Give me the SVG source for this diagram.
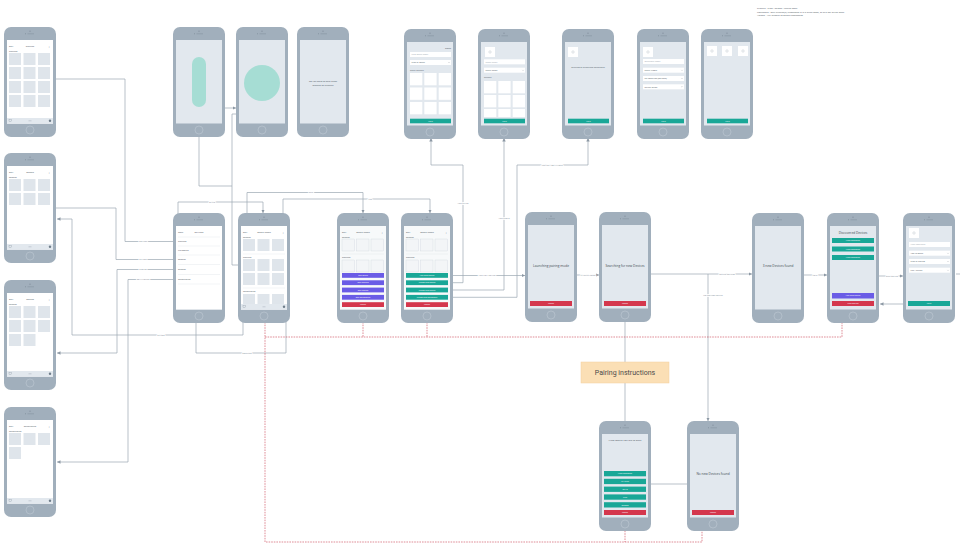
<svg xmlns="http://www.w3.org/2000/svg" xmlns:xlink="http://www.w3.org/1999/xlink" width="960" height="547" viewBox="0 0 960 547">
<style>
text{font-family:"Open Sans","Liberation Sans",sans-serif;}
.t{font-size:2.4px;fill:#4b5560;}
.tm{text-anchor:middle;}
.big{font-size:3.2px;fill:#3e4851;text-anchor:middle;}
.ph{fill:#a1afbc;}
.scr{fill:#e2e8ee;}
.wht{fill:#ffffff;}
.tile{fill:#dfe5eb;}
.otile{fill:#f3f5f7;stroke:#c5ced7;stroke-width:0.3;}
.wtile{fill:#ffffff;}
.teal{fill:#19a797;}
.pur{fill:#6a5ce6;}
.red{fill:#d4374d;}
.bt{font-size:2px;fill:#ffffff;text-anchor:middle;}
.inp{fill:#ffffff;}
.ph2{font-size:2.1px;fill:#9aa5b0;}
.sep{stroke:#d3dae1;stroke-width:0.3;}
.ln{fill:none;stroke:#9ba7b2;stroke-width:0.7;}
.rd{fill:none;stroke:#c94253;stroke-width:0.6;stroke-dasharray:1.6 1;}
.lbl{font-size:2.1px;fill:#7d8995;text-anchor:middle;stroke:#ffffff;stroke-width:1.6px;paint-order:stroke;}
.plus{font-size:4px;fill:#8a96a2;}
</style>
<defs>
<marker id="arr" viewBox="0 0 6 6" refX="6" refY="3" markerWidth="3.5" markerHeight="3.5" orient="auto" markerUnits="userSpaceOnUse"><path d="M0,0 L6,3 L0,6 z" fill="#8c98a4"/></marker>
<g id="phone">
<rect class="ph" width="52" height="110" rx="7"/>
<rect class="scr" x="3" y="13" width="46" height="83.5"/>
<circle cx="26" cy="4.2" r="0.6" fill="#7f8d9a"/>
<line x1="23.5" y1="6.8" x2="30" y2="6.8" stroke="#7f8d9a" stroke-width="0.5"/>
<circle cx="21.5" cy="6.8" r="0.5" fill="#7f8d9a"/>
<circle cx="26" cy="103" r="4" fill="none" stroke="#c3cdd6" stroke-width="0.5"/>
</g>
<g id="tabbar">
<rect class="scr" x="3" y="91" width="46" height="5.5"/>
<rect x="5" y="92.5" width="2.5" height="2.3" fill="none" stroke="#7f8d9a" stroke-width="0.3"/>
<line x1="24.5" y1="93.8" x2="27.5" y2="93.8" stroke="#9aa5b0" stroke-width="0.4"/>
<circle cx="46" cy="93.8" r="1.2" fill="#6f7d8a"/>
</g>
<g id="row3"><rect class="tile" x="5" y="0" width="12" height="12"/><rect class="tile" x="19.5" y="0" width="12" height="12"/><rect class="tile" x="34" y="0" width="12" height="12"/></g>
<g id="orow3"><rect class="otile" x="5" y="0" width="12.5" height="12"/><rect class="otile" x="19.5" y="0" width="12.5" height="12"/><rect class="otile" x="34" y="0" width="12.5" height="12"/></g>
<g id="wrow3"><rect class="wtile" x="6" y="0" width="12.3" height="12.3"/><rect class="wtile" x="20.3" y="0" width="12.3" height="12.3"/><rect class="wtile" x="34.7" y="0" width="12.3" height="12.3"/></g>
<g id="caret"><polyline points="-0.6,-0.3 0,0.3 0.6,-0.3" fill="none" stroke="#4b5560" stroke-width="0.25"/></g>
<g id="icon"><rect class="wht" width="10" height="10"/><circle cx="5" cy="5" r="1.2" fill="none" stroke="#9aa5b0" stroke-width="0.3"/></g>
</defs>

<!-- annotation -->
<g id="note">
<text class="t" x="757" y="9" style="font-size:2.3px">Triggers - Time / Sensor / Device state</text>
<text class="t" x="757" y="12.5" style="font-size:2.3px">Conditions - Only execute(s) if someone is in a given room, or at a day of the week</text>
<text class="t" x="757" y="16" style="font-size:2.3px">Actions - Any number of Zigbee commands</text>
</g>

<!-- connectors -->
<g id="connectors">
<path class="ln" d="M55,79 H125 V241.5 H177"/>
<path class="ln" d="M55,208 H116 V259.5 H177"/>
<path class="ln" d="M177,269.5 H117 V353 H57" marker-end="url(#arr)"/>
<path class="ln" d="M177,279.5 H128 V462 H57" marker-end="url(#arr)"/>
<path class="ln" d="M243,308 V335 H72 V219 H57" marker-end="url(#arr)"/>
<path class="ln" d="M196,322 V353 H286 V308"/>
<path class="ln" d="M178,229 V202 H263 V213" marker-end="url(#arr)"/>
<path class="ln" d="M247,229 V192.5 H363 V213" marker-end="url(#arr)"/>
<path class="ln" d="M283,229 V199 H430 V213" marker-end="url(#arr)"/>
<path class="ln" d="M199,137 V186 H232"/>
<path class="ln" d="M225,108 H236" marker-end="url(#arr)"/>
<path class="ln" d="M243,265 H232 V114 H236"/>
<path class="ln" d="M448,275.5 H525" marker-end="url(#arr)"/>
<path class="ln" d="M448,282.7 H463 V165 H431 V138" marker-end="url(#arr)"/>
<path class="ln" d="M448,290 H504 V138" marker-end="url(#arr)"/>
<path class="ln" d="M448,297.3 H517 V165 H588 V138" marker-end="url(#arr)"/>
<path class="ln" d="M577,275 H599" marker-end="url(#arr)"/>
<path class="ln" d="M651,274 H752" marker-end="url(#arr)"/>
<path class="ln" d="M708,274 V421" marker-end="url(#arr)"/>
<path class="ln" d="M625,322 V362"/>
<path class="ln" d="M625,383 V421"/>
<path class="ln" d="M804,275 H827" marker-end="url(#arr)"/>
<path class="ln" d="M879,276 H903" marker-end="url(#arr)"/>
<path class="ln" d="M908,304 H880" marker-end="url(#arr)"/>
<path class="ln" d="M956,274 H960"/>
<path class="ln" d="M651,484 H687"/>
<path class="rd" d="M265,322 V542 H702 V515"/>
<path class="rd" d="M625,515 V542"/>
<path class="rd" d="M265,337 H842 V306"/>
<path class="rd" d="M363,322 V337"/>
<path class="rd" d="M427,322 V337"/>
<text class="lbl" x="143" y="242.3">DEVICES</text>
<text class="lbl" x="143" y="260.3">SPACES</text>
<text class="lbl" x="143" y="270.3">SCENES</text>
<text class="lbl" x="143" y="280.3">BEHAVIOURS</text>
<text class="lbl" x="161" y="335.8">SPACES</text>
<text class="lbl" x="247" y="353.8">SETTINGS</text>
<text class="lbl" x="212" y="202.8">SPACE</text>
<text class="lbl" x="311" y="193.3">EDIT</text>
<text class="lbl" x="370" y="199.8">ADD</text>
<text class="lbl" x="487" y="276.3">ADD NEW DEVICE</text>
<text class="lbl" x="463" y="204">ADD SPACE</text>
<text class="lbl" x="504" y="218.8">ADD SCENE</text>
<text class="lbl" x="552" y="165.8">ADD NEW BEHAVIOUR</text>
<text class="lbl" x="588" y="275.8">PAIRING MODE</text>
<text class="lbl" x="727" y="274.8">FOUND DEVICES</text>
<text class="lbl" x="713" y="295.8">NO DEVICES FOUND</text>
<text class="lbl" x="815" y="275.8">NEXT</text>
<text class="lbl" x="892" y="276.8">EDIT DEVICE</text>
</g>

<!-- left column -->
<g id="devices" transform="translate(4,27)">
<use href="#phone"/><rect class="wht" x="3" y="13" width="46" height="83.5"/>
<text class="t" x="5" y="19.5">Edit</text><text class="t tm" x="26" y="19.5">Devices</text><text class="plus" x="44" y="20.5">+</text>
<text class="t" x="5" y="24.5">Devices</text>
<use href="#row3" y="26"/><use href="#row3" y="40"/><use href="#row3" y="54"/><use href="#row3" y="68"/>
<use href="#tabbar"/>
</g>
<g id="spaces" transform="translate(4,153)">
<use href="#phone"/><rect class="wht" x="3" y="13" width="46" height="83.5"/>
<text class="t" x="5" y="19.5">Edit</text><text class="t tm" x="26" y="19.5">Spaces</text><text class="plus" x="44" y="20.5">+</text>
<text class="t" x="5" y="24.5">Spaces</text>
<use href="#row3" y="26"/><use href="#row3" y="40"/>
<use href="#tabbar"/>
</g>
<g id="scenes" transform="translate(4,280)">
<use href="#phone"/><rect class="wht" x="3" y="13" width="46" height="83.5"/>
<text class="t" x="5" y="19.5">Edit</text><text class="t tm" x="26" y="19.5">Scenes</text><text class="plus" x="44" y="20.5">+</text>
<text class="t" x="5" y="24.5">Scenes</text>
<use href="#row3" y="26"/><use href="#row3" y="40"/>
<rect class="tile" x="5" y="54" width="12" height="12"/><rect class="tile" x="19.5" y="54" width="12" height="12"/>
<use href="#tabbar"/>
</g>
<g id="behaviours" transform="translate(4,407)">
<use href="#phone"/><rect class="wht" x="3" y="13" width="46" height="83.5"/>
<text class="t" x="5" y="19.5">Edit</text><text class="t tm" x="26" y="19.5">Behaviours</text><text class="plus" x="44" y="20.5">+</text>
<text class="t" x="5" y="24.5">Behaviours</text>
<use href="#row3" y="26"/>
<rect class="tile" x="5" y="40" width="12" height="12"/>
<use href="#tabbar"/>
</g>

<!-- top row -->
<g id="slider" transform="translate(173,27)">
<use href="#phone"/>
<rect x="19" y="30" width="14" height="50" rx="7" fill="#a6ddd4"/>
</g>
<g id="colour" transform="translate(236,27)">
<use href="#phone"/>
<circle cx="26" cy="56" r="18" fill="#a6ddd4"/>
</g>
<g id="save-scene" transform="translate(297,27)">
<use href="#phone"/>
<text class="t tm" x="26" y="54.5" style="font-size:2.3px">Do you want to save these</text>
<text class="t tm" x="26" y="58.5" style="font-size:2.3px">settings as a scene?</text>
</g>
<g id="new-space" transform="translate(404,29)">
<use href="#phone"/>
<text class="t" x="47" y="19.5" text-anchor="end">Done</text>
<rect class="inp" x="6" y="23" width="41" height="5"/><text class="ph2" x="7.5" y="26.3">New Space name</text>
<rect class="inp" x="6" y="31" width="41" height="5"/><text class="t" x="7.5" y="34.3" style="font-size:2.1px">Type of Space</text><use href="#caret" x="45" y="33.5"/>
<text class="t" x="6" y="42" style="font-size:2.1px">Select Devices</text>
<use href="#wrow3" y="44"/><use href="#wrow3" y="58.5"/><use href="#wrow3" y="73"/>
<rect class="teal" x="6" y="89.7" width="41" height="4.6"/><text class="bt" x="26.5" y="92.7">Next</text>
</g>
<g id="new-scene" transform="translate(478,29)">
<use href="#phone"/>
<use href="#icon" x="7" y="18"/>
<rect class="inp" x="6" y="30.3" width="41" height="5"/><text class="ph2" x="7.5" y="33.6">Scene name</text>
<rect class="inp" x="6" y="38.7" width="41" height="5"/><text class="t" x="7.5" y="42" style="font-size:2.1px">Select Space</text><use href="#caret" x="45" y="41.2"/>
<text class="t" x="6" y="48.5" style="font-size:2.1px">Devices</text>
<use href="#wrow3" y="52"/><use href="#wrow3" y="66"/>
<rect class="wtile" x="6" y="80" width="12.3" height="8"/><rect class="wtile" x="20.3" y="80" width="12.3" height="8"/><rect class="wtile" x="34.7" y="80" width="12.3" height="8"/>
<rect class="teal" x="6" y="89.7" width="41" height="4.6"/><text class="bt" x="26.5" y="92.7">Next</text>
</g>
<g id="prescribed" transform="translate(562,29)">
<use href="#phone"/>
<use href="#icon" x="6" y="18"/>
<text class="t tm" x="26" y="39" style="font-size:2.1px">Selection of prescribed Behaviours</text>
<rect class="teal" x="6" y="89.7" width="41" height="4.6"/><text class="bt" x="26.5" y="92.7">Next</text>
</g>
<g id="new-behaviour" transform="translate(637,29)">
<use href="#phone"/>
<use href="#icon" x="6" y="18"/>
<rect class="inp" x="6" y="30" width="41" height="5"/><text class="ph2" x="7.5" y="33.3">Behaviour name</text>
<rect class="inp" x="6" y="38.7" width="41" height="5"/><text class="t" x="7.5" y="42" style="font-size:2.1px">Select trigger</text><use href="#caret" x="45" y="41.2"/>
<rect class="inp" x="6" y="47" width="41" height="5"/><text class="t" x="7.5" y="50.3" style="font-size:2.1px">Set condition (optional)</text><use href="#caret" x="45" y="49.5"/>
<rect class="inp" x="6" y="55.3" width="41" height="5"/><text class="t" x="7.5" y="58.6" style="font-size:2.1px">Define action</text><use href="#caret" x="45" y="57.8"/>
<rect class="teal" x="6" y="89.7" width="41" height="4.6"/><text class="bt" x="26.5" y="92.7">Next</text>
</g>
<g id="trigger-types" transform="translate(701,29)">
<use href="#phone"/>
<use href="#icon" x="6" y="17"/><use href="#icon" x="21" y="17"/><use href="#icon" x="37" y="17"/>
<rect class="teal" x="6" y="89.7" width="41" height="4.6"/><text class="bt" x="26.5" y="92.7">Next</text>
</g>

<!-- middle row -->
<g id="settings" transform="translate(173,213)">
<use href="#phone"/><rect class="wht" x="3" y="13" width="46" height="83.5"/>
<text class="t" x="5" y="19.5">Back</text><text class="t tm" x="26" y="19.5">Settings</text>
<line class="sep" x1="5" y1="24" x2="47" y2="24"/>
<text class="t" x="5" y="29.3">Devices</text><line class="sep" x1="5" y1="33" x2="47" y2="33"/>
<text class="t" x="5" y="38.3">Networks</text><line class="sep" x1="5" y1="42" x2="47" y2="42"/>
<text class="t" x="5" y="47.3">Spaces</text><line class="sep" x1="5" y1="51.5" x2="47" y2="51.5"/>
<text class="t" x="5" y="57.3">Scenes</text><line class="sep" x1="5" y1="61.5" x2="47" y2="61.5"/>
<text class="t" x="5" y="67.3">Behaviours</text><line class="sep" x1="5" y1="71" x2="47" y2="71"/>
</g>
<g id="space" transform="translate(238,213)">
<use href="#phone"/><rect class="wht" x="3" y="13" width="46" height="83.5"/>
<text class="t" x="5" y="19.5">Edit</text><text class="t tm" x="26" y="19.5">Space name</text><text class="plus" x="44" y="20.5">+</text>
<text class="t" x="5" y="24.5">Scenes</text>
<use href="#row3" y="26"/>
<line class="sep" x1="5" y1="41" x2="47" y2="41"/>
<text class="t" x="5" y="44.5">Devices</text>
<use href="#row3" y="46"/><use href="#row3" y="60"/>
<line class="sep" x1="5" y1="75" x2="47" y2="75"/>
<text class="t" x="5" y="78.5">Behaviours</text>
<rect class="tile" x="5" y="81" width="12" height="10"/><rect class="tile" x="19.5" y="81" width="12" height="10"/><rect class="tile" x="34" y="81" width="12" height="10"/>
<use href="#tabbar"/>
</g>
<g id="edit-space" transform="translate(337,213)">
<use href="#phone"/><rect x="3" y="13" width="46" height="83.5" fill="#f7f9fa"/>
<text class="t" x="5" y="19.5">Edit</text><text class="t tm" x="26" y="19.5">Space name</text><text class="plus" x="44" y="20.5">+</text>
<text class="t" x="5" y="24.5">Scenes</text>
<use href="#orow3" y="26"/>
<line class="sep" x1="5" y1="41" x2="47" y2="41"/>
<text class="t" x="5" y="44.5">Devices</text>
<use href="#orow3" y="47"/>
<rect class="pur" x="5" y="60" width="42" height="4.8"/><text class="bt" x="26" y="63.1">Edit Space</text>
<rect class="pur" x="5" y="67.3" width="42" height="4.8"/><text class="bt" x="26" y="70.4">Edit Devices</text>
<rect class="pur" x="5" y="74.6" width="42" height="4.8"/><text class="bt" x="26" y="77.7">Edit Scenes</text>
<rect class="pur" x="5" y="81.9" width="42" height="4.8"/><text class="bt" x="26" y="85">Edit Behaviours</text>
<rect class="red" x="5" y="89.2" width="42" height="4.8"/><text class="bt" x="26" y="92.3">Cancel</text>
</g>
<g id="add" transform="translate(401,213)">
<use href="#phone"/><rect x="3" y="13" width="46" height="83.5" fill="#f7f9fa"/>
<text class="t" x="5" y="19.5">Edit</text><text class="t tm" x="26" y="19.5">Space name</text><text class="plus" x="44" y="20.5">+</text>
<text class="t" x="5" y="24.5">Scenes</text>
<use href="#orow3" y="26"/>
<line class="sep" x1="5" y1="41" x2="47" y2="41"/>
<text class="t" x="5" y="44.5">Devices</text>
<use href="#orow3" y="47"/>
<rect class="teal" x="5" y="60" width="42" height="4.8"/><text class="bt" x="26" y="63.1">Add new Device</text>
<rect class="teal" x="5" y="67.3" width="42" height="4.8"/><text class="bt" x="26" y="70.4">Create new Space</text>
<rect class="teal" x="5" y="74.6" width="42" height="4.8"/><text class="bt" x="26" y="77.7">Create new Scene</text>
<rect class="teal" x="5" y="81.9" width="42" height="4.8"/><text class="bt" x="26" y="85">Create new Behaviour</text>
<rect class="red" x="5" y="89.2" width="42" height="4.8"/><text class="bt" x="26" y="92.3">Cancel</text>
</g>
<g id="launching" transform="translate(525,212)">
<use href="#phone"/>
<text class="big" x="26" y="54.5">Launching pairing mode</text>
<rect class="red" x="5" y="89" width="42" height="5"/><text class="bt" x="26" y="92.2">Cancel</text>
</g>
<g id="searching" transform="translate(599,212)">
<use href="#phone"/>
<text class="big" x="26" y="54.5">Searching for new Devices</text>
<rect class="red" x="5" y="89" width="42" height="5"/><text class="bt" x="26" y="92.2">Cancel</text>
</g>
<g id="found" transform="translate(752,213)">
<use href="#phone"/>
<text class="big" x="26" y="53.5">3 new Devices found</text>
</g>
<g id="discovered" transform="translate(827,213)">
<use href="#phone"/>
<text class="big" x="26" y="20.5">Discovered Devices</text>
<rect class="teal" x="5" y="25" width="42" height="5"/><text class="bt" x="26" y="28.2">Xline Controller</text>
<rect class="teal" x="5" y="33.5" width="42" height="5"/><text class="bt" x="26" y="36.7">Xline Controller</text>
<rect class="teal" x="5" y="42" width="42" height="5"/><text class="bt" x="26" y="45.2">Xline Controller</text>
<rect class="pur" x="5" y="80" width="42" height="5.5"/><text class="bt" x="26" y="83.4">Add new Device</text>
<rect class="red" x="5" y="88" width="42" height="5"/><text class="bt" x="26" y="91.2">Find pairing</text>
</g>
<g id="edit-device" transform="translate(903,213)">
<use href="#phone"/>
<use href="#icon" x="6" y="15"/>
<rect class="inp" x="6" y="29" width="41" height="5"/><text class="ph2" x="7.5" y="32.3">Xline Controller</text>
<rect class="inp" x="6" y="37.7" width="41" height="5"/><text class="t" x="7.5" y="41" style="font-size:2.1px">Add to Space</text><use href="#caret" x="45" y="40.2"/>
<rect class="inp" x="6" y="46" width="41" height="5"/><text class="t" x="7.5" y="49.3" style="font-size:2.1px">Type of pairing</text><use href="#caret" x="45" y="48.5"/>
<rect class="inp" x="6" y="54.7" width="41" height="5"/><text class="t" x="7.5" y="58" style="font-size:2.1px">Use / Device</text><use href="#caret" x="45" y="57.2"/>
<rect class="teal" x="5" y="88" width="42" height="5"/><text class="bt" x="26" y="91.2">Next</text>
</g>

<!-- bottom -->
<g id="pairing-instructions">
<rect x="581" y="362" width="88" height="21" fill="#fbdfb5" stroke="#f1cf9f" stroke-width="0.5"/>
<text x="625" y="375.3" text-anchor="middle" style="font-family:Roboto,'Liberation Sans',sans-serif;font-size:7px;fill:#4a4a4a">Pairing instructions</text>
</g>
<g id="what-pair" transform="translate(599,421)">
<use href="#phone"/>
<text class="t tm" x="26" y="20" style="font-size:2.5px;fill:#3e4851">What would you like to pair?</text>
<rect class="teal" x="5" y="50" width="42" height="5.3"/><text class="bt" x="26" y="53.3">Xline Controller</text>
<rect class="teal" x="5" y="57.8" width="42" height="5.3"/><text class="bt" x="26" y="61.1">XLX bulb</text>
<rect class="teal" x="5" y="65.6" width="42" height="5.3"/><text class="bt" x="26" y="68.9">GU10</text>
<rect class="teal" x="5" y="73.4" width="42" height="5.3"/><text class="bt" x="26" y="76.7">Plug</text>
<rect class="teal" x="5" y="81.2" width="42" height="5.3"/><text class="bt" x="26" y="84.5">Remote</text>
<rect class="red" x="5" y="89" width="42" height="5"/><text class="bt" x="26" y="92.2">Cancel</text>
</g>
<g id="no-new" transform="translate(687,421)">
<use href="#phone"/>
<text class="big" x="26" y="53.5">No new Devices found</text>
<rect class="red" x="5" y="89" width="42" height="5"/><text class="bt" x="26" y="92.2">Cancel</text>
</g>
</svg>
